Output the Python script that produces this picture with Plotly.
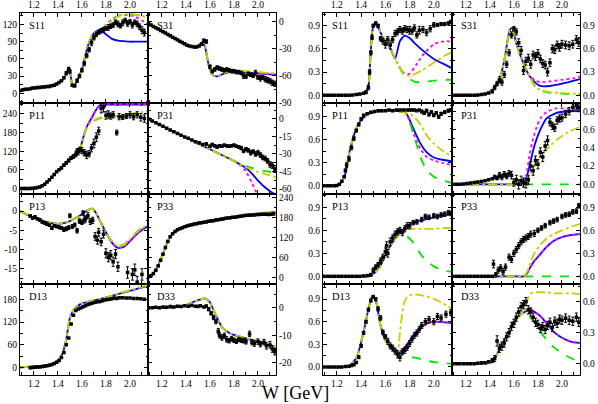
import plotly.graph_objects as go

COLORS = {'blue': '#0000ff', 'magenta': '#ff00ff', 'green': '#00e600', 'yellow': '#cccc00'}
DASHES = {'blue': 'solid', 'magenta': 'dot', 'green': 'dash', 'yellow': 'dashdot'}
FONT = 'Liberation Serif'

# ---------------- phases (deg), left block ----------------
S11_PH_BW = [1.085, 1.15, 1.2, 1.25, 1.3, 1.35, 1.4, 1.44, 1.47, 1.49, 1.505, 1.525, 1.55, 1.6, 1.65, 1.7, 1.75]
S11_PH_B = [4, 7, 9, 10, 12, 14, 18, 24, 34, 46, 32, 11, 18, 42, 83, 105, 111]
S11_PH_TW = [1.8, 1.85, 1.9, 1.95, 2.0, 2.05, 2.1, 2.15]
S11_PH_BLUE = [103, 95, 92, 91, 90, 90, 90, 90]
S11_PH_MAG = [119, 129, 135, 137, 136, 133, 127, 120]
S11_PH_GRN = [118, 128, 134, 138, 138, 137, 135, 132]
S11_PH_YEL = [118, 127, 134, 138, 138, 137, 135, 133]
S11_PH_DATA = [(1.09, 5), (1.11, 6), (1.13, 7), (1.15, 7), (1.17, 8), (1.19, 9), (1.21, 9), (1.23, 10),
               (1.25, 10), (1.27, 11), (1.29, 11), (1.31, 12), (1.33, 12), (1.35, 13), (1.37, 14),
               (1.39, 16), (1.41, 19), (1.43, 22), (1.45, 27, 2), (1.47, 35, 3), (1.49, 42, 3),
               (1.5, 38, 3), (1.52, 14, 2), (1.54, 13, 2), (1.56, 22, 3), (1.58, 30, 3), (1.6, 40, 3),
               (1.62, 52, 4), (1.64, 66, 4), (1.66, 76, 4), (1.68, 88, 5), (1.7, 97, 4), (1.72, 103, 4),
               (1.74, 106, 3), (1.76, 109, 4), (1.78, 111, 4), (1.8, 113, 3), (1.82, 115, 5),
               (1.84, 117, 4), (1.86, 119, 4), (1.88, 124, 4), (1.9, 121, 5), (1.92, 118, 4),
               (1.94, 123, 5), (1.96, 127, 4), (1.98, 122, 5), (2.0, 125, 4), (2.02, 119, 5),
               (2.04, 124, 4), (2.06, 121, 5), (2.08, 116, 5), (2.1, 110, 6), (2.12, 106, 6)]

S31_PH_BW = [1.085, 1.15, 1.2, 1.25, 1.3, 1.35, 1.4, 1.45, 1.5, 1.535, 1.56, 1.58, 1.6, 1.63, 1.67]
S31_PH_B = [-1.5, -6.5, -10, -13.5, -18, -22, -25.5, -27.5, -27, -23, -28, -42, -53, -60, -60.5]
S31_PH_TW = [1.72, 1.8, 1.9, 2.0, 2.1, 2.15]
S31_PH_BLUE = [-57.5, -55.5, -56.5, -57.5, -58.5, -59]
S31_PH_MAG = [-57.5, -55.5, -56.5, -57.5, -58.5, -59.5]
S31_PH_GRN = [-57, -55, -55.5, -56.5, -57.5, -58]
S31_PH_YEL = [-56.5, -54.5, -55, -56, -57, -57.5]
S31_PH_DATA = [(1.09, -2), (1.11, -3.5), (1.13, -5), (1.15, -6.5), (1.17, -8), (1.19, -9.5), (1.21, -11),
               (1.23, -12.5), (1.25, -14), (1.27, -15.5), (1.29, -17), (1.31, -18.5), (1.33, -20),
               (1.35, -21.5), (1.37, -23), (1.39, -24.5), (1.41, -26), (1.43, -27), (1.45, -27.5),
               (1.47, -28), (1.49, -28), (1.51, -27), (1.53, -25, 1.5), (1.55, -21, 2), (1.57, -22, 2),
               (1.6, -50, 2), (1.62, -55, 2), (1.64, -53, 2), (1.66, -51, 2), (1.68, -52, 2),
               (1.7, -53, 2), (1.72, -54, 2), (1.74, -53, 2), (1.76, -54, 2), (1.78, -55, 2),
               (1.8, -55, 2), (1.82, -56, 2), (1.84, -56, 2), (1.86, -57, 2), (1.88, -60, 3),
               (1.9, -61, 2), (1.92, -58, 2), (1.94, -59, 2), (1.96, -60, 2), (1.98, -57, 3),
               (2.0, -62, 2), (2.02, -63, 3), (2.04, -62, 2), (2.06, -64, 3), (2.08, -65, 3),
               (2.1, -66, 3), (2.12, -68, 3), (2.14, -69, 3)]

P11_PH_BW = [1.085, 1.15, 1.2, 1.25, 1.3, 1.35, 1.4, 1.45, 1.5, 1.55, 1.58]
P11_PH_B = [0, 0, 1, 4, 17, 37, 58, 78, 98, 113, 122]
P11_PH_TW = [1.61, 1.64, 1.68, 1.72, 1.75, 1.8, 1.9, 2.0, 2.1, 2.15]
P11_PH_BLUE = [162, 198, 226, 254, 268, 270, 270, 270, 270, 270]
P11_PH_MAG = [162, 198, 226, 254, 268, 271, 271, 271, 271, 271]
P11_PH_GRN = [160, 195, 212, 221, 226, 229, 233, 238, 244, 247]
P11_PH_YEL = [160, 195, 214, 223, 228, 232, 235, 240, 246, 249]
P11_PH_DATA = [(1.09, 0), (1.11, 0), (1.13, 0), (1.15, 0), (1.17, 0), (1.19, 1), (1.21, 2), (1.23, 3),
               (1.25, 5), (1.27, 9), (1.29, 14), (1.31, 21), (1.33, 28), (1.35, 36), (1.37, 45),
               (1.39, 54), (1.41, 60), (1.43, 66, 3), (1.45, 75, 4), (1.47, 82, 4), (1.49, 90, 5),
               (1.51, 98, 5), (1.53, 103, 6), (1.55, 110, 8), (1.56, 120, 8), (1.57, 118, 10),
               (1.58, 125, 8), (1.6, 122, 10), (1.62, 115, 10), (1.64, 108, 12), (1.66, 112, 10),
               (1.68, 130, 12), (1.7, 145, 14), (1.72, 165, 14), (1.74, 185, 12), (1.76, 258, 15),
               (1.78, 262, 16), (1.8, 235, 12), (1.82, 238, 12), (1.84, 233, 10), (1.86, 237, 10),
               (1.89, 180, 8), (1.91, 231, 10), (1.94, 230, 8), (1.97, 233, 8), (2.0, 237, 10),
               (2.03, 231, 10), (2.06, 237, 10), (2.09, 229, 12), (2.12, 225, 12)]

P31_PH_BW = [1.085, 1.2, 1.3, 1.4, 1.5, 1.6, 1.7, 1.8]
P31_PH_B = [0, -5.8, -10.9, -15.9, -21, -26, -31, -36]
P31_PH_TW = [1.85, 1.9, 1.95, 2.0, 2.05, 2.1, 2.15]
P31_PH_BLUE = [-39, -42, -47, -53, -58, -62, -65]
P31_PH_MAG = [-39.5, -45, -55, -66, -75, -80, -85]
P31_PH_GRN = [-38.5, -40.5, -42, -43.5, -44.5, -45.5, -46.5]
P31_PH_YEL = [-39, -41.5, -43.5, -45.5, -47, -48.5, -50]
P31_PH_DATA = [(1.09, 0), (1.12, -1.7), (1.15, -3.2), (1.18, -4.7), (1.21, -6.2), (1.24, -8),
               (1.27, -9.5), (1.3, -11), (1.33, -12.5), (1.36, -14), (1.39, -15.5), (1.42, -16.5),
               (1.45, -18), (1.48, -19.5), (1.51, -20.5, 1), (1.54, -22, 1), (1.57, -21.5, 1),
               (1.6, -23.5, 1), (1.62, -22, 1), (1.64, -23, 1), (1.66, -24, 1), (1.68, -23, 1),
               (1.7, -23.5, 1), (1.72, -22.5, 1), (1.74, -23, 1), (1.76, -23.5, 1), (1.78, -23, 1),
               (1.8, -22.5, 1), (1.82, -23.5, 1), (1.84, -24, 1), (1.86, -25, 1.5), (1.88, -27.5, 1.5),
               (1.9, -26, 1.5), (1.92, -27, 1.5), (1.94, -29, 2), (1.96, -28, 1.5), (1.98, -30, 2),
               (2.0, -29, 2), (2.02, -31, 2), (2.04, -33, 2), (2.06, -34, 2), (2.08, -36, 2),
               (2.1, -39, 2.5), (2.12, -40, 2.5), (2.14, -43, 3)]

P13_PH_BW = [1.085, 1.15, 1.2, 1.25, 1.3, 1.35, 1.4, 1.45, 1.5, 1.55, 1.6, 1.65, 1.69, 1.72, 1.75, 1.8]
P13_PH_B = [0, -1, -1.7, -2.2, -2.7, -3.1, -3.3, -3.1, -2.6, -1.8, -0.8, 0.3, 0.6, -0.6, -2.5, -5.5]
P13_PH_TW = [1.85, 1.9, 1.95, 2.0, 2.05, 2.1, 2.15]
P13_PH_BLUE = [-8.2, -9.6, -9.3, -7.8, -6.2, -4.9, -3.9]
P13_PH_MAG = [-8.1, -9.5, -9.2, -7.7, -6.1, -4.8, -3.8]
P13_PH_GRN = [-7.8, -9.0, -8.7, -7.2, -5.6, -4.4, -3.4]
P13_PH_YEL = [-7.9, -9.1, -8.8, -7.3, -5.7, -4.5, -3.5]
P13_PH_DATA = [(1.17, -1.3, 0.3), (1.19, -1.8, 0.3), (1.21, -1.5, 0.3), (1.23, -2.0, 0.3),
               (1.25, -2.3, 0.3), (1.27, -2.8, 0.3), (1.29, -3.1, 0.3), (1.31, -3.4, 0.3),
               (1.33, -3.7, 0.3), (1.35, -4.4, 0.4), (1.37, -3.8, 0.3), (1.39, -4.0, 0.3),
               (1.41, -4.2, 0.4), (1.43, -4.4, 0.4), (1.45, -4.8, 0.5), (1.47, -4.6, 0.5),
               (1.49, -4.3, 0.5), (1.5, -1.2, 0.5), (1.52, -4.0, 0.5), (1.54, -3.6, 0.5),
               (1.56, -5.1, 0.6), (1.58, -2.6, 0.6), (1.6, -2.9, 0.6), (1.61, -0.5, 0.6),
               (1.62, -2.3, 0.8), (1.63, -2.0, 0.8), (1.65, -1.2, 0.8), (1.67, -2.7, 0.8),
               (1.69, -2.4, 0.8), (1.71, -6.6, 1.0), (1.73, -7.6, 1.0), (1.74, -5.5, 1.0),
               (1.76, -8.0, 1.0), (1.78, -6.0, 1.0), (1.8, -11.0, 1.2), (1.82, -12.0, 1.2),
               (1.84, -11.5, 1.2), (1.86, -13.2, 1.2), (1.88, -11.2, 1.2), (1.9, -14.5, 1.2),
               (1.98, -16.0, 1.5), (2.02, -16.5, 1.5), (2.04, -15.3, 1.5), (2.06, -18.5, 1.5),
               (2.1, -16.5, 1.5)]

P33_PH_BW = [1.085, 1.12, 1.16, 1.2, 1.232, 1.26, 1.3, 1.35, 1.4, 1.5, 1.6, 1.7, 1.8]
P33_PH_B = [2, 10, 30, 62, 92, 116, 134, 146, 154, 163, 170, 176, 181]
P33_PH_TW = [1.9, 2.0, 2.1, 2.15]
P33_PH_BLUE = [186, 190, 194, 196]
P33_PH_MAG = [186, 190, 194, 196]
P33_PH_GRN = [186.5, 191, 195, 197]
P33_PH_YEL = [187, 191.5, 195.5, 197.5]
P33_PH_DATA = [(1.09, 3), (1.11, 6), (1.13, 12), (1.15, 22), (1.17, 35), (1.19, 52), (1.21, 70),
               (1.23, 90), (1.25, 108), (1.27, 122), (1.29, 131), (1.31, 138), (1.33, 143),
               (1.35, 146), (1.37, 149), (1.39, 152), (1.41, 154), (1.43, 156), (1.45, 158),
               (1.47, 160), (1.49, 161), (1.51, 163), (1.53, 164), (1.55, 165), (1.57, 166),
               (1.59, 168), (1.61, 169), (1.63, 170), (1.65, 172), (1.67, 173), (1.69, 174),
               (1.71, 175), (1.73, 177), (1.75, 178), (1.77, 179), (1.79, 180), (1.81, 180),
               (1.83, 182), (1.85, 183), (1.87, 184), (1.89, 185), (1.91, 186), (1.93, 186),
               (1.95, 187), (1.97, 187), (1.99, 188), (2.01, 188), (2.03, 189), (2.05, 189),
               (2.07, 189), (2.09, 188), (2.11, 189), (2.13, 190)]

D13_PH_BW = [1.085, 1.2, 1.3, 1.35, 1.4, 1.44, 1.47, 1.5, 1.53, 1.56, 1.6, 1.7, 1.77, 1.85]
D13_PH_B = [1, 3, 6, 10, 18, 38, 75, 130, 151, 161, 169, 177, 182, 189]
D13_PH_TW = [1.93, 2.0, 2.1, 2.15]
D13_PH_BLUE = [196, 202, 211, 216]
D13_PH_MAG = [196, 202, 211, 216]
D13_PH_GRN = [197, 203, 212, 217]
D13_PH_YEL = [198, 204, 213, 218]
D13_PH_DATA = [(1.17, 0), (1.19, 0.5), (1.21, 1), (1.23, 1.5), (1.25, 2), (1.27, 3), (1.29, 4),
               (1.31, 5), (1.33, 6.5), (1.35, 8), (1.37, 11), (1.39, 14), (1.41, 19), (1.43, 27),
               (1.45, 40), (1.47, 60), (1.49, 78), (1.51, 115), (1.53, 138), (1.55, 150),
               (1.57, 154), (1.59, 157), (1.61, 160), (1.63, 163), (1.65, 166), (1.67, 168),
               (1.69, 170), (1.71, 172), (1.73, 173), (1.75, 174), (1.77, 176), (1.79, 178),
               (1.81, 179), (1.83, 180), (1.85, 181), (1.87, 183), (1.89, 182), (1.91, 184),
               (1.94, 184), (1.97, 183), (2.0, 183), (2.03, 182), (2.06, 182), (2.09, 181), (2.12, 180)]

D33_PH_BW = [1.085, 1.2, 1.3, 1.4, 1.5, 1.56, 1.6, 1.63, 1.67, 1.7, 1.77, 1.85]
D33_PH_B = [0, 0, 0.2, 1.0, 2.8, 3.4, 2.0, -0.8, -4.5, -7, -9.4, -10.5]
D33_PH_TW = [1.95, 2.05, 2.15]
D33_PH_BLUE = [-11.8, -13, -14.4]
D33_PH_MAG = [-11.8, -13, -14.4]
D33_PH_GRN = [-11.5, -12.8, -14.2]
D33_PH_YEL = [-11.6, -12.9, -14.3]
D33_PH_DATA = [(1.09, 0), (1.12, 0), (1.15, 0.2), (1.18, 0), (1.21, 0.3), (1.24, 0.2), (1.27, 0.5),
               (1.3, 0.3), (1.33, 0.6), (1.36, 0.5), (1.39, 0.8), (1.42, 0.6), (1.45, 0.9),
               (1.48, 0.6), (1.5, 0.5), (1.52, 0.8), (1.55, 0.3), (1.57, 0.6, 0.5), (1.59, -0.5, 0.6),
               (1.61, -2, 0.6), (1.63, -3.5, 0.8), (1.65, -5, 0.8), (1.67, -8.5, 1.0),
               (1.68, -10, 1.0), (1.7, -10.8, 1.0), (1.72, -10.2, 1.0), (1.74, -11.5, 1.0),
               (1.76, -12, 0.8), (1.78, -11.3, 0.8), (1.8, -11.8, 0.8), (1.82, -12.2, 0.8),
               (1.84, -11.5, 0.8), (1.86, -11.8, 0.8), (1.88, -12, 0.8), (1.9, -12.4, 0.8),
               (1.93, -9.5, 1.0), (1.95, -12.5, 1.0), (1.97, -13, 1.0), (2.0, -12.3, 1.0),
               (2.02, -13.2, 1.0), (2.05, -12.5, 1.0), (2.07, -13.8, 1.2), (2.1, -13.5, 1.2),
               (2.12, -15, 1.2), (2.14, -16, 1.2)]

# ---------------- moduli, right block ----------------
S11_AM_BW = [1.085, 1.3, 1.38, 1.43, 1.46, 1.475, 1.49, 1.505, 1.52, 1.545, 1.585, 1.64]
S11_AM_B = [0, 0, 0.01, 0.03, 0.12, 0.45, 0.8, 0.92, 0.91, 0.86, 0.73, 0.61]
S11_AM_TW = [1.68, 1.72, 1.76, 1.8, 1.85, 1.9, 2.0, 2.1, 2.15]
S11_AM_BLUE = [0.47, 0.7, 0.77, 0.74, 0.66, 0.59, 0.47, 0.39, 0.35]
S11_AM_MAG = [0.47, 0.36, 0.28, 0.28, 0.38, 0.5, 0.66, 0.7, 0.69]
S11_AM_GRN = [0.47, 0.35, 0.25, 0.21, 0.17, 0.17, 0.19, 0.2, 0.2]
S11_AM_YEL = [0.47, 0.36, 0.27, 0.25, 0.28, 0.32, 0.42, 0.52, 0.56]
S11_AM_DATA = [(1.09, 0), (1.12, 0), (1.15, 0), (1.18, 0), (1.21, 0), (1.24, 0), (1.27, 0), (1.3, 0),
               (1.33, 0.005), (1.36, 0.01), (1.39, 0.015), (1.42, 0.025), (1.44, 0.04, 0.02),
               (1.46, 0.1, 0.03), (1.47, 0.3, 0.03), (1.48, 0.55, 0.03), (1.49, 0.75, 0.03),
               (1.5, 0.9, 0.02), (1.52, 0.93, 0.02), (1.54, 0.9, 0.02), (1.56, 0.73, 0.03),
               (1.58, 0.7, 0.04), (1.6, 0.66, 0.05), (1.62, 0.72, 0.04), (1.64, 0.65, 0.05),
               (1.66, 0.72, 0.04), (1.68, 0.8, 0.04), (1.7, 0.82, 0.04), (1.72, 0.85, 0.04),
               (1.74, 0.83, 0.04), (1.76, 0.86, 0.04), (1.78, 0.85, 0.04), (1.8, 0.84, 0.05),
               (1.82, 0.83, 0.04), (1.84, 0.87, 0.04), (1.86, 0.78, 0.04), (1.88, 0.84, 0.05),
               (1.91, 0.85, 0.04), (1.94, 0.81, 0.04), (1.97, 0.86, 0.04), (2.0, 0.91, 0.03),
               (2.03, 0.91, 0.02), (2.06, 0.92, 0.02), (2.09, 0.92, 0.02), (2.12, 0.93, 0.02),
               (2.14, 0.95, 0.02)]

S31_AM_BW = [1.085, 1.3, 1.37, 1.43, 1.48, 1.525, 1.565, 1.585, 1.62, 1.68, 1.73]
S31_AM_B = [0, 0, 0.02, 0.09, 0.2, 0.49, 0.84, 0.87, 0.67, 0.41, 0.25]
S31_AM_TW = [1.78, 1.82, 1.9, 2.0, 2.1, 2.15]
S31_AM_BLUE = [0.16, 0.12, 0.12, 0.15, 0.19, 0.21]
S31_AM_MAG = [0.19, 0.17, 0.18, 0.2, 0.22, 0.24]
S31_AM_GRN = [0.1, 0.06, 0.03, 0.02, 0.01, 0.01]
S31_AM_YEL = [0.11, 0.07, 0.04, 0.03, 0.02, 0.02]
S31_AM_DATA = [(1.09, 0), (1.12, 0), (1.15, 0), (1.18, 0), (1.21, 0), (1.24, 0), (1.27, 0),
               (1.3, 0.005), (1.33, 0.01), (1.36, 0.015), (1.39, 0.03), (1.42, 0.05, 0.02),
               (1.44, 0.1, 0.03), (1.46, 0.15, 0.03), (1.48, 0.2, 0.04), (1.5, 0.17, 0.04),
               (1.52, 0.27, 0.04), (1.54, 0.4, 0.04), (1.56, 0.55, 0.04), (1.58, 0.78, 0.04),
               (1.6, 0.86, 0.03), (1.62, 0.82, 0.04), (1.64, 0.68, 0.05), (1.66, 0.58, 0.05),
               (1.68, 0.32, 0.05), (1.7, 0.44, 0.05), (1.72, 0.48, 0.05), (1.74, 0.4, 0.05),
               (1.76, 0.52, 0.05), (1.78, 0.5, 0.05), (1.8, 0.54, 0.05), (1.82, 0.47, 0.05),
               (1.84, 0.41, 0.05), (1.86, 0.39, 0.05), (1.88, 0.3, 0.05), (1.9, 0.42, 0.05),
               (1.92, 0.6, 0.05), (1.94, 0.59, 0.05), (1.96, 0.65, 0.05), (1.98, 0.62, 0.05),
               (2.0, 0.66, 0.05), (2.03, 0.65, 0.05), (2.06, 0.64, 0.05), (2.09, 0.66, 0.05),
               (2.12, 0.72, 0.05), (2.14, 0.68, 0.05)]

P11_AM_BW = [1.085, 1.2, 1.24, 1.27, 1.295, 1.335, 1.38, 1.45, 1.55, 1.65, 1.72, 1.77]
P11_AM_B = [0, 0, 0.05, 0.16, 0.38, 0.64, 0.81, 0.93, 0.97, 0.98, 0.97, 0.95]
P11_AM_TW = [1.83, 1.89, 1.94, 2.0, 2.07, 2.15]
P11_AM_BLUE = [0.75, 0.55, 0.44, 0.37, 0.34, 0.32]
P11_AM_MAG = [0.69, 0.48, 0.38, 0.33, 0.3, 0.27]
P11_AM_GRN = [0.69, 0.37, 0.21, 0.12, 0.07, 0.04]
P11_AM_YEL = [0.91, 0.8, 0.66, 0.55, 0.46, 0.38]
P11_AM_DATA = [(1.09, 0), (1.12, 0), (1.15, 0), (1.18, 0), (1.2, 0.005), (1.22, 0.02), (1.24, 0.06),
               (1.26, 0.12), (1.27, 0.2, 0.02), (1.28, 0.27, 0.03), (1.3, 0.35, 0.03),
               (1.32, 0.5, 0.03), (1.34, 0.62, 0.03), (1.36, 0.72, 0.02), (1.38, 0.8, 0.02),
               (1.4, 0.87, 0.02), (1.42, 0.92), (1.45, 0.94), (1.48, 0.96), (1.51, 0.97),
               (1.54, 0.98), (1.57, 0.98), (1.6, 0.98), (1.63, 0.99), (1.66, 0.98), (1.69, 0.99),
               (1.72, 0.99), (1.75, 0.99), (1.78, 0.99), (1.8, 0.99), (1.82, 0.99), (1.84, 0.99),
               (1.86, 0.98), (1.88, 0.99), (1.9, 0.97, 0.02), (1.92, 0.95, 0.02), (1.94, 0.98, 0.02),
               (1.96, 0.93, 0.02), (1.98, 0.96, 0.02), (2.0, 0.92, 0.02), (2.02, 0.95, 0.02),
               (2.04, 0.9, 0.02), (2.06, 0.94, 0.02), (2.09, 0.96, 0.02), (2.12, 0.98, 0.02),
               (2.14, 0.99, 0.02)]

P31_AM_BW = [1.085, 1.6, 1.66]
P31_AM_B = [0, 0, 0]
P31_AM_TW = [1.7, 1.73, 1.76, 1.79, 1.82, 1.87, 1.95, 2.05, 2.15]
P31_AM_BLUE = [0.06, 0.2, 0.37, 0.5, 0.6, 0.72, 0.78, 0.8, 0.8]
P31_AM_MAG = [0.09, 0.32, 0.5, 0.63, 0.72, 0.79, 0.83, 0.83, 0.83]
P31_AM_GRN = [0, 0, 0, 0, 0, 0, 0, 0, 0]
P31_AM_YEL = [0.03, 0.1, 0.19, 0.25, 0.3, 0.38, 0.48, 0.57, 0.63]
P31_AM_DATA = [(1.09, 0), (1.12, 0), (1.15, 0), (1.18, 0.005), (1.21, 0.01), (1.24, 0.015),
               (1.27, 0.02), (1.3, 0.025), (1.33, 0.03), (1.36, 0.04), (1.39, 0.05), (1.42, 0.06),
               (1.44, 0.08, 0.02), (1.46, 0.07, 0.02), (1.48, 0.1, 0.03), (1.5, 0.08, 0.03),
               (1.52, 0.11, 0.03), (1.54, 0.09, 0.03), (1.56, 0.12, 0.03), (1.58, 0.1, 0.04),
               (1.6, 0.02, 0.04), (1.62, 0.05, 0.05), (1.64, 0.0, 0.05), (1.66, 0.04, 0.05),
               (1.68, 0.02, 0.05), (1.7, 0.01, 0.05), (1.72, 0.05, 0.05), (1.74, 0.2, 0.05),
               (1.76, 0.15, 0.05), (1.78, 0.26, 0.05), (1.8, 0.22, 0.05), (1.82, 0.35, 0.05),
               (1.84, 0.3, 0.05), (1.86, 0.42, 0.05), (1.88, 0.48, 0.05), (1.9, 0.68, 0.04),
               (1.92, 0.64, 0.04), (1.94, 0.62, 0.04), (1.96, 0.7, 0.04), (1.98, 0.72, 0.04),
               (2.0, 0.73, 0.04), (2.03, 0.77, 0.04), (2.06, 0.8, 0.04), (2.09, 0.84, 0.04),
               (2.12, 0.86, 0.04), (2.14, 0.84, 0.04)]

P13_AM_BW = [1.085, 1.45, 1.5, 1.556, 1.611, 1.666, 1.72]
P13_AM_B = [0, 0, 0.03, 0.13, 0.31, 0.46, 0.56]
P13_AM_TW = [1.75, 1.78, 1.83, 1.9, 2.0, 2.1, 2.15]
P13_AM_BLUE = [0.61, 0.66, 0.7, 0.73, 0.77, 0.8, 0.81]
P13_AM_MAG = [0.61, 0.66, 0.7, 0.73, 0.77, 0.8, 0.81]
P13_AM_GRN = [0.55, 0.52, 0.44, 0.27, 0.13, 0.07, 0.06]
P13_AM_YEL = [0.61, 0.62, 0.62, 0.62, 0.62, 0.63, 0.63]
P13_AM_DATA = [(1.09, 0), (1.12, 0), (1.15, 0), (1.18, 0), (1.21, 0), (1.24, 0), (1.27, 0), (1.3, 0),
               (1.33, 0), (1.36, 0), (1.39, 0), (1.42, 0.005), (1.45, 0.01), (1.48, 0.02, 0.02),
               (1.5, 0.08, 0.03), (1.52, 0.12, 0.03), (1.54, 0.15, 0.03), (1.56, 0.2, 0.04),
               (1.58, 0.25, 0.04), (1.6, 0.32, 0.05), (1.61, 0.4, 0.05), (1.62, 0.3, 0.05),
               (1.64, 0.45, 0.05), (1.66, 0.5, 0.04), (1.68, 0.55, 0.04), (1.7, 0.58, 0.04),
               (1.72, 0.6, 0.04), (1.74, 0.57, 0.04), (1.76, 0.62, 0.04), (1.78, 0.66, 0.04),
               (1.8, 0.66, 0.04), (1.83, 0.7, 0.03), (1.86, 0.71, 0.03), (1.9, 0.74, 0.03),
               (1.93, 0.78, 0.03), (1.96, 0.77, 0.03), (2.0, 0.79, 0.03), (2.03, 0.78, 0.03),
               (2.06, 0.8, 0.03), (2.09, 0.81, 0.03), (2.12, 0.83, 0.03), (2.14, 0.82, 0.03)]

P33_AM_BW = [1.085, 1.6, 1.68]
P33_AM_B = [0, 0, 0]
P33_AM_TW = [1.71, 1.73, 1.77, 1.82, 1.87, 1.93, 2.0, 2.08, 2.15]
P33_AM_BLUE = [0.04, 0.1, 0.2, 0.29, 0.38, 0.46, 0.51, 0.54, 0.55]
P33_AM_MAG = [0.04, 0.1, 0.2, 0.29, 0.38, 0.46, 0.51, 0.54, 0.55]
P33_AM_GRN = [0, 0, 0, 0, 0, 0, 0, 0, 0]
P33_AM_YEL = [0.06, 0.15, 0.3, 0.41, 0.49, 0.55, 0.6, 0.65, 0.68]
P33_AM_DATA = [(1.09, 0), (1.12, 0), (1.15, 0), (1.18, 0), (1.21, 0), (1.24, 0), (1.27, 0), (1.3, 0),
               (1.33, 0), (1.36, 0), (1.39, 0), (1.42, 0.0), (1.43, 0.16, 0.05), (1.45, 0.02, 0.03),
               (1.47, 0.08, 0.04), (1.49, 0.11, 0.04), (1.51, 0.06, 0.04), (1.53, 0.12, 0.04),
               (1.56, 0.25, 0.04), (1.58, 0.22, 0.04), (1.6, 0.3, 0.04), (1.62, 0.35, 0.04),
               (1.64, 0.4, 0.04), (1.66, 0.45, 0.04), (1.68, 0.48, 0.04), (1.7, 0.5, 0.04),
               (1.72, 0.52, 0.04), (1.74, 0.55, 0.04), (1.77, 0.56, 0.04), (1.8, 0.6, 0.03),
               (1.83, 0.63, 0.03), (1.86, 0.66, 0.03), (1.9, 0.7, 0.03), (1.93, 0.72, 0.03),
               (1.96, 0.74, 0.03), (2.0, 0.78, 0.03), (2.03, 0.8, 0.03), (2.06, 0.81, 0.03),
               (2.09, 0.84, 0.03), (2.12, 0.85, 0.03), (2.14, 0.92, 0.03)]

D13_AM_BW = [1.085, 1.3, 1.363, 1.418, 1.459, 1.487, 1.505, 1.525, 1.556, 1.597, 1.638, 1.68]
D13_AM_B = [0, 0.01, 0.13, 0.45, 0.76, 0.92, 0.93, 0.86, 0.58, 0.36, 0.27, 0.2]
D13_AM_TW = [1.7, 1.72, 1.75, 1.78, 1.82, 1.86, 1.9, 1.95, 2.02, 2.1, 2.15]
D13_AM_BLUE = [0.18, 0.2, 0.24, 0.3, 0.39, 0.47, 0.53, 0.58, 0.6, 0.59, 0.58]
D13_AM_MAG = [0.18, 0.2, 0.24, 0.3, 0.39, 0.47, 0.53, 0.58, 0.6, 0.59, 0.58]
D13_AM_GRN = [0.18, 0.17, 0.16, 0.15, 0.13, 0.12, 0.1, 0.08, 0.06, 0.05, 0.04]
D13_AM_YEL = [0.16, 0.45, 0.82, 0.93, 0.96, 0.96, 0.95, 0.93, 0.89, 0.82, 0.77]
D13_AM_DATA = [(1.09, 0), (1.12, 0), (1.15, 0), (1.18, 0), (1.21, 0), (1.24, 0), (1.27, 0.005),
               (1.3, 0.01), (1.32, 0.02), (1.34, 0.03), (1.36, 0.06), (1.38, 0.13, 0.02),
               (1.4, 0.28, 0.02), (1.42, 0.45, 0.02), (1.44, 0.6, 0.02), (1.46, 0.76, 0.02),
               (1.48, 0.88, 0.02), (1.5, 0.93, 0.02), (1.52, 0.9, 0.02), (1.54, 0.77, 0.03),
               (1.56, 0.65, 0.03), (1.58, 0.46, 0.03), (1.6, 0.4, 0.03), (1.62, 0.34, 0.04),
               (1.64, 0.28, 0.04), (1.66, 0.25, 0.04), (1.68, 0.21, 0.04), (1.7, 0.17, 0.05),
               (1.72, 0.13, 0.05), (1.74, 0.2, 0.04), (1.76, 0.22, 0.04), (1.78, 0.26, 0.04),
               (1.8, 0.31, 0.04), (1.82, 0.37, 0.04), (1.84, 0.42, 0.04), (1.86, 0.45, 0.04),
               (1.88, 0.5, 0.04), (1.9, 0.55, 0.04), (1.93, 0.6, 0.04), (1.96, 0.63, 0.04),
               (2.0, 0.6, 0.04), (2.03, 0.67, 0.04), (2.06, 0.65, 0.04), (2.1, 0.7, 0.04),
               (2.14, 0.72, 0.04)]

D33_AM_BW = [1.085, 1.37, 1.43, 1.484, 1.54, 1.595, 1.65, 1.69]
D33_AM_B = [0, 0, 0.03, 0.15, 0.27, 0.39, 0.47, 0.5]
D33_AM_TW = [1.71, 1.73, 1.76, 1.82, 1.88, 1.93, 2.0, 2.08, 2.15]
D33_AM_BLUE = [0.52, 0.53, 0.51, 0.46, 0.38, 0.31, 0.25, 0.21, 0.2]
D33_AM_MAG = [0.52, 0.53, 0.51, 0.46, 0.38, 0.31, 0.25, 0.21, 0.2]
D33_AM_GRN = [0.47, 0.45, 0.42, 0.31, 0.22, 0.16, 0.1, 0.05, 0.02]
D33_AM_YEL = [0.6, 0.67, 0.69, 0.69, 0.69, 0.68, 0.68, 0.68, 0.67]
D33_AM_DATA = [(1.09, 0), (1.12, 0), (1.15, 0), (1.18, 0), (1.21, 0), (1.24, 0), (1.27, 0),
               (1.3, 0.005), (1.33, 0.01), (1.36, 0.01), (1.39, 0.02), (1.42, 0.03, 0.02),
               (1.44, 0.05, 0.03), (1.46, 0.22, 0.05), (1.48, 0.15, 0.04), (1.5, 0.17, 0.04),
               (1.52, 0.2, 0.04), (1.54, 0.26, 0.04), (1.56, 0.3, 0.04), (1.58, 0.36, 0.04),
               (1.6, 0.39, 0.04), (1.62, 0.45, 0.04), (1.64, 0.5, 0.04), (1.66, 0.55, 0.04),
               (1.68, 0.57, 0.04), (1.7, 0.6, 0.04), (1.72, 0.52, 0.04), (1.74, 0.5, 0.04),
               (1.76, 0.45, 0.04), (1.78, 0.4, 0.04), (1.8, 0.38, 0.04), (1.82, 0.34, 0.04),
               (1.84, 0.36, 0.04), (1.86, 0.33, 0.04), (1.88, 0.37, 0.04), (1.9, 0.4, 0.04),
               (1.92, 0.35, 0.04), (1.94, 0.41, 0.04), (1.96, 0.39, 0.04), (1.98, 0.43, 0.04),
               (2.0, 0.42, 0.04), (2.03, 0.44, 0.04), (2.06, 0.42, 0.04), (2.09, 0.41, 0.04),
               (2.12, 0.45, 0.04), (2.14, 0.4, 0.04)]

# y axes: range, major ticks, minor step
PHASE_TICKS = {
    'S11': ([-17, 141], [0, 30, 60, 90, 120], 15),
    'S31': ([-90.5, 10.5], [-90, -60, -30, 0], 15),
    'P11': ([-16, 275], [0, 60, 120, 180, 240], 30),
    'P31': ([-64, 13.7], [-60, -45, -30, -15, 0], 7.5),
    'P13': ([-19, 4.6], [-15, -10, -5, 0], 2.5),
    'P33': ([-19, 251], [0, 60, 120, 180, 240], 30),
    'D13': ([-18, 220], [0, 60, 120, 180], 30),
    'D33': ([-24.3, 8.7], [-20, -10, 0], 5),
}
AMP_TICKS = {
    'S11': ([-0.1, 1.07], [0, 0.3, 0.6, 0.9], 0.15),
    'S31': ([-0.1, 1.07], [0, 0.3, 0.6, 0.9], 0.15),
    'P11': ([-0.1, 1.08], [0, 0.3, 0.6, 0.9], 0.15),
    'P31': ([-0.1, 0.89], [0, 0.2, 0.4, 0.6, 0.8], 0.1),
    'P13': ([-0.1, 1.08], [0, 0.3, 0.6, 0.9], 0.15),
    'P33': ([-0.1, 1.08], [0, 0.3, 0.6, 0.9], 0.15),
    'D13': ([-0.1, 1.1], [0, 0.3, 0.6, 0.9], 0.15),
    'D33': ([-0.104, 0.77], [0, 0.3, 0.6], 0.15),
}


def panel(label, kind, bw, b, tw, blue, mag, grn, yel, data):
    return dict(label=label, kind=kind, bw=bw, b=b, tw=tw,
                curves=dict(blue=blue, magenta=mag, green=grn, yellow=yel), data=data)


PANELS = [
    panel('S11', 'ph', S11_PH_BW, S11_PH_B, S11_PH_TW, S11_PH_BLUE, S11_PH_MAG, S11_PH_GRN, S11_PH_YEL, S11_PH_DATA),
    panel('S31', 'ph', S31_PH_BW, S31_PH_B, S31_PH_TW, S31_PH_BLUE, S31_PH_MAG, S31_PH_GRN, S31_PH_YEL, S31_PH_DATA),
    panel('S11', 'am', S11_AM_BW, S11_AM_B, S11_AM_TW, S11_AM_BLUE, S11_AM_MAG, S11_AM_GRN, S11_AM_YEL, S11_AM_DATA),
    panel('S31', 'am', S31_AM_BW, S31_AM_B, S31_AM_TW, S31_AM_BLUE, S31_AM_MAG, S31_AM_GRN, S31_AM_YEL, S31_AM_DATA),
    panel('P11', 'ph', P11_PH_BW, P11_PH_B, P11_PH_TW, P11_PH_BLUE, P11_PH_MAG, P11_PH_GRN, P11_PH_YEL, P11_PH_DATA),
    panel('P31', 'ph', P31_PH_BW, P31_PH_B, P31_PH_TW, P31_PH_BLUE, P31_PH_MAG, P31_PH_GRN, P31_PH_YEL, P31_PH_DATA),
    panel('P11', 'am', P11_AM_BW, P11_AM_B, P11_AM_TW, P11_AM_BLUE, P11_AM_MAG, P11_AM_GRN, P11_AM_YEL, P11_AM_DATA),
    panel('P31', 'am', P31_AM_BW, P31_AM_B, P31_AM_TW, P31_AM_BLUE, P31_AM_MAG, P31_AM_GRN, P31_AM_YEL, P31_AM_DATA),
    panel('P13', 'ph', P13_PH_BW, P13_PH_B, P13_PH_TW, P13_PH_BLUE, P13_PH_MAG, P13_PH_GRN, P13_PH_YEL, P13_PH_DATA),
    panel('P33', 'ph', P33_PH_BW, P33_PH_B, P33_PH_TW, P33_PH_BLUE, P33_PH_MAG, P33_PH_GRN, P33_PH_YEL, P33_PH_DATA),
    panel('P13', 'am', P13_AM_BW, P13_AM_B, P13_AM_TW, P13_AM_BLUE, P13_AM_MAG, P13_AM_GRN, P13_AM_YEL, P13_AM_DATA),
    panel('P33', 'am', P33_AM_BW, P33_AM_B, P33_AM_TW, P33_AM_BLUE, P33_AM_MAG, P33_AM_GRN, P33_AM_YEL, P33_AM_DATA),
    panel('D13', 'ph', D13_PH_BW, D13_PH_B, D13_PH_TW, D13_PH_BLUE, D13_PH_MAG, D13_PH_GRN, D13_PH_YEL, D13_PH_DATA),
    panel('D33', 'ph', D33_PH_BW, D33_PH_B, D33_PH_TW, D33_PH_BLUE, D33_PH_MAG, D33_PH_GRN, D33_PH_YEL, D33_PH_DATA),
    panel('D13', 'am', D13_AM_BW, D13_AM_B, D13_AM_TW, D13_AM_BLUE, D13_AM_MAG, D13_AM_GRN, D13_AM_YEL, D13_AM_DATA),
    panel('D33', 'am', D33_AM_BW, D33_AM_B, D33_AM_TW, D33_AM_BLUE, D33_AM_MAG, D33_AM_GRN, D33_AM_YEL, D33_AM_DATA),
]

# geometry in pixels of the 598x404 page
WIDTH, HEIGHT = 598, 404
COLS_PX = [(20, 148), (148, 276), (323, 452), (452, 580)]
ROWS_PX = [(12.5, 103), (103, 193.5), (193.5, 284), (284, 374.5)]
X_RANGE = [1.085, 2.15]

fig = go.Figure()
layout = {}

for i, p in enumerate(PANELS):
    row, col = divmod(i, 4)
    n = '' if i == 0 else str(i + 1)
    xa, ya = 'x' + n, 'y' + n

    for name in ['blue', 'magenta', 'green', 'yellow']:
        fig.add_trace(go.Scatter(
            x=p['bw'] + p['tw'], y=p['b'] + p['curves'][name], mode='lines',
            line=dict(color=COLORS[name], width=1.8, dash=DASHES[name], shape='spline', smoothing=0.6),
            xaxis=xa, yaxis=ya, showlegend=False, hoverinfo='skip'))

    wx = [d[0] for d in p['data']]
    wy = [d[1] for d in p['data']]
    we = [d[2] if len(d) > 2 else 0 for d in p['data']]
    fig.add_trace(go.Scatter(
        x=wx, y=wy, mode='markers',
        marker=dict(symbol='square', size=3.5, color='black'),
        error_y=dict(type='data', array=we, color='black', thickness=1, width=1.5),
        xaxis=xa, yaxis=ya, showlegend=False))

    x0, x1 = COLS_PX[col]
    y0, y1 = ROWS_PX[row]
    common = dict(showline=True, linecolor='black', linewidth=1, mirror='ticks',
                  ticks='inside', tickcolor='black', ticklen=4, tickwidth=1,
                  showgrid=False, zeroline=False, automargin=False,
                  tickfont=dict(family=FONT, size=9.5, color='black'))

    xside = 'top' if row == 0 else 'bottom'
    layout['xaxis' + n] = dict(
        common, domain=[x0 / WIDTH, x1 / WIDTH], range=X_RANGE, anchor=ya,
        tickmode='array', tickvals=[1.2, 1.4, 1.6, 1.8, 2.0],
        ticktext=['1.2', '1.4', '1.6', '1.8', '2.0'],
        minor=dict(tickmode='linear', tick0=1.1, dtick=0.1, ticks='inside', ticklen=3, tickcolor='black'),
        side=xside, showticklabels=(row in (0, 3)))

    yr, yt, ym = (PHASE_TICKS if p['kind'] == 'ph' else AMP_TICKS)[p['label']]
    if p['kind'] == 'ph':
        ytext = [str(v) for v in yt]
    else:
        ytext = ['%.1f' % v for v in yt]
    layout['yaxis' + n] = dict(
        common, domain=[1 - y1 / HEIGHT, 1 - y0 / HEIGHT], range=yr, anchor=xa,
        tickmode='array', tickvals=yt, ticktext=ytext,
        minor=dict(tickmode='linear', tick0=0, dtick=ym, ticks='inside', ticklen=2.5, tickcolor='black'),
        side='left' if col in (0, 2) else 'right')

    fig.add_annotation(text=p['label'], xref=xa + ' domain', yref=ya + ' domain',
                       x=0.055, y=0.86, xanchor='left', yanchor='middle', showarrow=False,
                       font=dict(family=FONT, size=10.5, color='black'))

fig.add_annotation(text='W [GeV]', xref='paper', yref='paper', x=295 / WIDTH, y=1 - 392.5 / HEIGHT,
                   xanchor='center', yanchor='middle', showarrow=False,
                   font=dict(family=FONT, size=18, color='black'))

fig.update_layout(
    width=WIDTH, height=HEIGHT,
    margin=dict(l=0, r=0, t=0, b=0),
    paper_bgcolor='white', plot_bgcolor='white',
    font=dict(family=FONT, color='black'),
    **layout
)

# the page body has a default 8px margin; drop it so the figure fills the window
fig.write_html("out.html", config={'displayModeBar': False},
               post_script="document.body.style.margin='0';")
